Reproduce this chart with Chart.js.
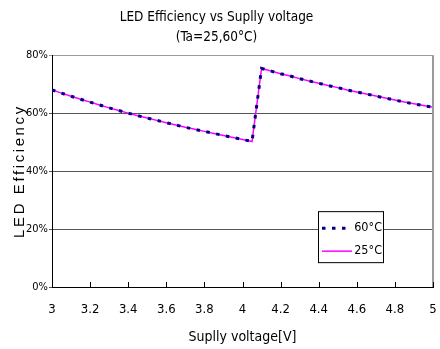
<!DOCTYPE html>
<html>
<head>
<meta charset="utf-8">
<script src="https://cdn.jsdelivr.net/npm/chart.js@4.4.1/dist/chart.umd.min.js"></script>
<style>
  html, body { margin: 0; padding: 0; background: #fff; }
  #wrap { width: 440px; height: 349px; }
</style>
</head>
<body>
<div id="wrap"><canvas id="effChart"></canvas></div>
<script>
// supply voltage [V]
const voltage = [
  3.00, 3.05, 3.10, 3.15, 3.20, 3.25, 3.30, 3.35, 3.40, 3.45, 3.50,
  3.55, 3.60, 3.65, 3.70, 3.75, 3.80, 3.85, 3.90, 3.95, 4.00, 4.05,
  4.10, 4.15, 4.20, 4.25, 4.30, 4.35, 4.40, 4.45, 4.50, 4.55, 4.60,
  4.65, 4.70, 4.75, 4.80, 4.85, 4.90, 4.95, 5.00
];
// efficiency [%]
const eff60 = [
  68.0, 66.9, 65.8, 64.8, 63.8, 62.8, 61.8, 60.9, 60.0, 59.1, 58.3,
  57.5, 56.7, 55.9, 55.1, 54.4, 53.7, 53.0, 52.3, 51.6, 50.9, 50.2,
  75.4, 74.5, 73.6, 72.8, 71.9, 71.1, 70.3, 69.5, 68.8, 68.0, 67.3,
  66.6, 65.9, 65.2, 64.5, 63.8, 63.2, 62.6, 62.0
];
const eff25 = [
  68.0, 66.9, 65.8, 64.8, 63.8, 62.8, 61.8, 60.9, 60.0, 59.1, 58.3,
  57.5, 56.7, 55.9, 55.1, 54.4, 53.7, 53.0, 52.3, 51.6, 50.9, 50.2,
  75.4, 74.5, 73.6, 72.8, 71.9, 71.1, 70.3, 69.5, 68.8, 68.0, 67.3,
  66.6, 65.9, 65.2, 64.5, 63.8, 63.2, 62.6, 62.0
];
const seriesLabels = ['60\u00b0C', '25\u00b0C'];
const titleLines = ['LED Efficiency vs Suplly voltage', '(Ta=25,60\u00b0C)'];
const xTitle = 'Suplly voltage[V]';
const yTitle = 'LED Efficiency';

const NARROW = '"DejaVu Sans Condensed", "Liberation Sans Narrow", sans-serif';

const toPoints = (ys) => ys.map((y, i) => ({ x: voltage[i], y: y }));

// frame, inner x ticks, rotated y title and boxed legend
const extras = {
  id: 'extras',
  afterDatasetsDraw(chart) {
    const { ctx, chartArea: a, scales } = chart;
    ctx.save();
    // right border
    ctx.strokeStyle = '#9a9a9a';
    ctx.lineWidth = 2;
    ctx.beginPath();
    ctx.moveTo(a.right, a.top);
    ctx.lineTo(a.right, a.bottom);
    ctx.stroke();
    // x tick marks pointing inward
    ctx.strokeStyle = '#000';
    ctx.lineWidth = 1;
    scales.x.ticks.forEach(t => {
      const px = Math.round(scales.x.getPixelForValue(t.value)) + 0.5;
      ctx.beginPath();
      ctx.moveTo(px, a.bottom);
      ctx.lineTo(px, a.bottom - 5);
      ctx.stroke();
    });
    ctx.restore();
  },
  afterDraw(chart) {
    const { ctx, chartArea: a } = chart;
    ctx.save();
    // y axis title
    ctx.translate(20, (a.top + a.bottom) / 2);
    ctx.rotate(-Math.PI / 2);
    ctx.font = '15px "Liberation Sans", Arial, sans-serif';
    ctx.letterSpacing = '2.6px';
    ctx.fillStyle = '#000';
    ctx.textAlign = 'center';
    ctx.textBaseline = 'middle';
    ctx.fillText(yTitle, 0, 0);
    ctx.restore();

    // legend box
    const bx = a.right - 115, by = a.top + 156, bw = 65, bh = 51;
    ctx.save();
    ctx.fillStyle = '#fff';
    ctx.fillRect(bx, by, bw, bh);
    ctx.strokeStyle = '#000';
    ctx.lineWidth = 1;
    ctx.strokeRect(bx + 0.5, by + 0.5, bw, bh);
    chart.data.datasets.forEach((ds, i) => {
      const ly = by + 17 + i * 23;
      ctx.strokeStyle = ds.borderColor;
      ctx.lineWidth = ds.borderWidth;
      ctx.setLineDash(ds.borderDash || []);
      ctx.beginPath();
      ctx.moveTo(bx + 4, ly);
      ctx.lineTo(bx + 34, ly);
      ctx.stroke();
      ctx.setLineDash([]);
      ctx.fillStyle = '#000';
      ctx.font = '12.5px ' + NARROW;
      ctx.textAlign = 'right';
      ctx.textBaseline = 'middle';
      ctx.fillText(ds.label, bx + bw - 1, ly);
    });
    ctx.restore();
  }
};

new Chart(document.getElementById('effChart'), {
  type: 'line',
  data: {
    datasets: [
      {
        label: seriesLabels[0],
        data: toPoints(eff60),
        borderColor: '#000080',
        borderWidth: 3,
        borderDash: [3.5, 6.5],
        pointRadius: 0,
        tension: 0
      },
      {
        label: seriesLabels[1],
        data: toPoints(eff25),
        borderColor: '#ff00ff',
        borderWidth: 1.5,
        pointRadius: 0,
        tension: 0
      }
    ]
  },
  options: {
    responsive: true,
    maintainAspectRatio: false,
    animation: false,
    layout: { padding: { left: 0, right: 7, top: 0, bottom: 0 } },
    plugins: {
      legend: { display: false },
      tooltip: { enabled: false },
      title: {
        display: true,
        text: titleLines,
        color: '#000',
        font: { family: NARROW, size: 13.5, weight: 'normal', lineHeight: 1.45 },
        padding: { top: 8, bottom: 8 }
      }
    },
    scales: {
      x: {
        type: 'linear',
        min: 3,
        max: 5,
        afterFit: (s) => { s.height = 62; s.paddingLeft = 0; s.paddingRight = 0; },
        border: { color: '#000', width: 1 },
        grid: { display: false, drawTicks: false },
        ticks: {
          stepSize: 0.2,
          padding: 15,
          color: '#000',
          maxRotation: 0,
          font: { family: NARROW, size: 13 },
          callback: (v) => String(Math.round(v * 10) / 10)
        },
        title: {
          display: true,
          text: xTitle,
          color: '#000',
          font: { family: NARROW, size: 14 },
          padding: { top: 0, bottom: 3 }
        }
      },
      y: {
        min: 0,
        max: 80,
        afterFit: (s) => { s.width = 52; },
        border: { color: '#000', width: 1 },
        grid: {
          color: (c) => c.tick && c.tick.value === 80 ? '#9a9a9a' : '#555',
          lineWidth: 1,
          drawTicks: true,
          tickLength: 3
        },
        ticks: {
          stepSize: 20,
          padding: 1,
          color: '#000',
          font: { family: NARROW, size: 11 },
          callback: (v) => v + '%'
        }
      }
    }
  },
  plugins: [extras]
});
</script>
</body>
</html>
